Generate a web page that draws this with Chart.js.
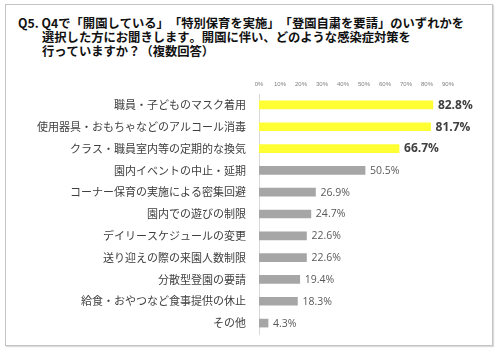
<!DOCTYPE html>
<html><head><meta charset="utf-8">
<script src="https://cdn.jsdelivr.net/npm/chart.js@4/dist/chart.umd.min.js"></script>
<style>
html,body{margin:0;padding:0;background:#fff;}
#wrap{position:relative;width:500px;height:354px;overflow:hidden;font-family:"Noto Sans CJK JP","Noto Sans",sans-serif;}
#frame{position:absolute;left:5px;top:4px;width:488px;height:342px;border:1px solid #c4c4c4;box-sizing:border-box;box-shadow:1px 1px 1px #dcdcdc;}
#title{position:absolute;left:18px;top:16px;font-size:12.3px;font-weight:bold;color:#111;line-height:14px;white-space:nowrap;text-spacing-trim:space-all;font-kerning:none;}
#title .ind{padding-left:24px;display:block;}
canvas{position:absolute;left:0;top:0;}
</style></head>
<body><div id="wrap">
<div id="frame"></div>
<div id="title">Q5. Q4で「開園している」「特別保育を実施」「登園自粛を要請」のいずれかを<span class="ind">選択した方にお聞きします。開園に伴い、どのような感染症対策を</span><span class="ind">行っていますか？（複数回答）</span></div>
<canvas id="c" width="500" height="354"></canvas>
</div>
<script>
const categories = [
  "職員・子どものマスク着用",
  "使用器具・おもちゃなどのアルコール消毒",
  "クラス・職員室内等の定期的な換気",
  "園内イベントの中止・延期",
  "コーナー保育の実施による密集回避",
  "園内での遊びの制限",
  "デイリースケジュールの変更",
  "送り迎えの際の来園人数制限",
  "分散型登園の要請",
  "給食・おやつなど食事提供の休止",
  "その他"
];
const values = [82.8, 81.7, 66.7, 50.5, 26.9, 24.7, 22.6, 22.6, 19.4, 18.3, 4.3];
const xTicks = [0, 10, 20, 30, 40, 50, 60, 70, 80, 90];
const highlightCount = 3;

const YELLOW = '#FFFF33';
const GRAY = '#A6A6A6';

const labelPlugin = {
  id: 'valueLabels',
  afterDatasetsDraw(chart) {
    const ctx = chart.ctx;
    const meta = chart.getDatasetMeta(0);
    ctx.save();
    ctx.textBaseline = 'middle';
    ctx.textAlign = 'left';
    meta.data.forEach((bar, i) => {
      const hi = i < highlightCount;
      ctx.font = hi ? 'bold 12px "Open Sans", sans-serif' : '10.5px "Open Sans", sans-serif';
      ctx.fillStyle = hi ? '#404040' : '#595959';
      ctx.fillText(values[i].toFixed(1) + '%', bar.x + 5, bar.y + 0.5);
    });
    ctx.restore();
  }
};

new Chart(document.getElementById('c'), {
  type: 'bar',
  data: {
    labels: categories,
    datasets: [{
      data: values,
      backgroundColor: values.map((v, i) => i < highlightCount ? YELLOW : GRAY),
      barThickness: 8,
      borderWidth: 0
    }]
  },
  options: {
    indexAxis: 'y',
    responsive: false,
    animation: false,
    layout: { padding: { top: 70, right: 52, bottom: 20, left: 0 } },
    plugins: { legend: { display: false }, tooltip: { enabled: false } },
    scales: {
      x: {
        position: 'top',
        min: 0, max: 90,
        afterBuildTicks(scale) { scale.ticks = xTicks.map(v => ({ value: v })); },
        afterFit(scale) { scale.height = 24; },
        grid: { display: false, drawTicks: false },
        border: { display: false },
        ticks: {
          padding: 6,
          maxRotation: 0,
          autoSkip: false,
          color: '#7f7f7f',
          font: { size: 6, family: '"Liberation Sans", Arial, sans-serif' },
          callback: v => v + '%'
        }
      },
      y: {
        afterFit(scale) { scale.width = 259; },
        grid: { display: false, drawTicks: false },
        border: { display: true, color: '#d9d9d9', width: 1 },
        ticks: {
          padding: 13,
          autoSkip: false,
          color: '#404040',
          font: { size: 11, family: '"Noto Sans CJK JP", sans-serif' }
        }
      }
    }
  },
  plugins: [labelPlugin]
});
</script>
</body></html>
